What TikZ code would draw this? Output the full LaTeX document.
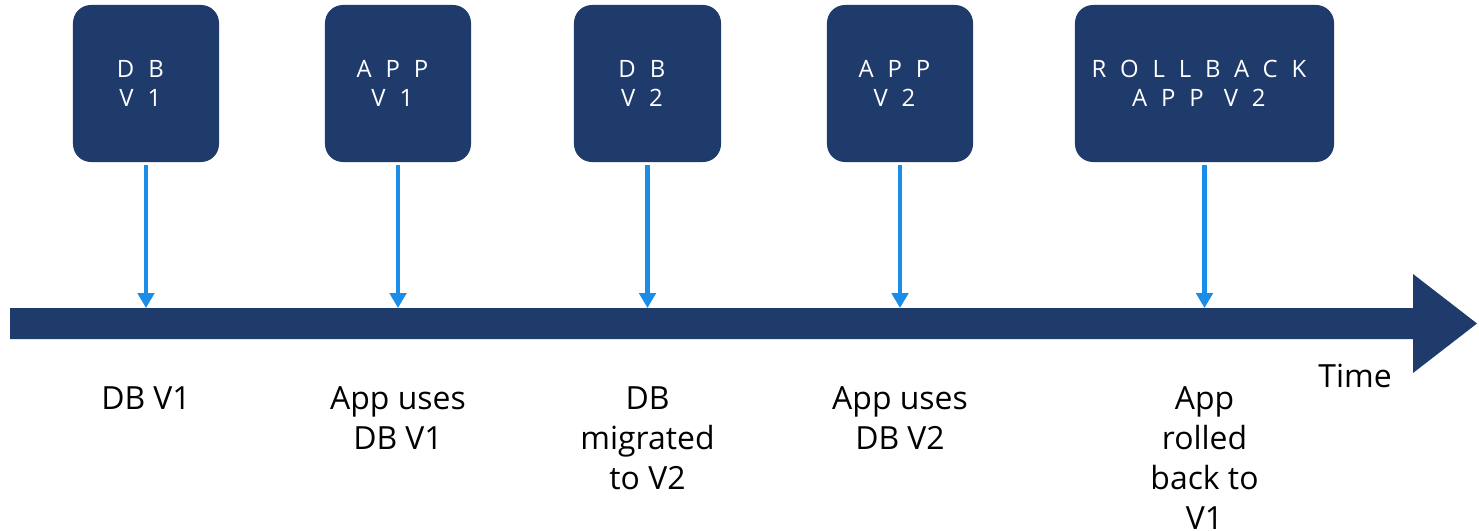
\documentclass[tikz,border=0pt]{standalone}
\usepackage{fontspec}
\setmainfont{Open Sans}
\newfontfamily\boxfont[LetterSpace=58]{Open Sans}
\usetikzlibrary{arrows.meta}
\definecolor{navy}{RGB}{31,59,108}
\definecolor{tickblue}{RGB}{26,141,232}
\newcommand{\trail}{\kern8pt}

\begin{document}
\begin{tikzpicture}[x=0.025cm, y=-0.025cm,
    stagebox/.style={rectangle, rounded corners=0.45cm, fill=navy, text=white,
        minimum height=3.925cm, align=center, inner sep=0pt,
        font=\boxfont\fontsize{17}{20.5}\selectfont},
    tick/.style={tickblue, line width=3.4pt, -{Triangle[width=11.5pt, length=10.5pt]}},
    caption/.style={anchor=north, align=center, inner sep=0pt,
        font=\fontsize{22.7}{28.5}\selectfont}]
        \useasboundingbox (0,0) rectangle (1479,531);

        \node at (146,83.5) [stagebox, minimum width=3.65cm] (db1) {DB\trail\\V1\trail};
        \node at (398,83.5) [stagebox, minimum width=3.65cm] (app1) {APP\trail\\V1\trail};
        \node at (647.5,83.5) [stagebox, minimum width=3.675cm] (db2) {DB\trail\\V2\trail};
        \node at (900,83.5) [stagebox, minimum width=3.65cm] (app2) {APP\trail\\V2\trail};
        \node at (1204.5,83.5) [stagebox, minimum width=6.475cm] (rollback) {ROLLBACK\trail\\APP V2\trail};

        % time line
        \coordinate (bartop) at (0,308);
        \fill[navy] (10,308) -- (1413,308) -- (1413,274) -- (1477,323.5)
            -- (1413,373) -- (1413,339) -- (10,339) -- cycle;
        \node at (1355,387) [anchor=base, inner sep=0pt, font=\fontsize{22.7}{28.5}\selectfont] (time) {Time};

        \draw[tick] ([yshift=-2pt]db1.south) -- (db1.south |- bartop);
        \draw[tick] ([yshift=-2pt]app1.south) -- (app1.south |- bartop);
        \draw[tick] ([yshift=-2pt]db2.south) -- (db2.south |- bartop);
        \draw[tick] ([yshift=-2pt]app2.south) -- (app2.south |- bartop);
        \draw[tick] ([yshift=-2pt]rollback.south) -- (rollback.south |- bartop);

        \node at (146,386) [caption] (l1) {DB V1};
        \node at (398,386) [caption] (l2) {App uses\\DB V1};
        \node at (647.5,386) [caption] (l3) {DB\\migrated\\to V2};
        \node at (900,386) [caption] (l4) {App uses\\DB V2};
        \node at (1204.5,386) [caption] (l5) {App\\rolled\\back to\\V1};
    \end{tikzpicture}
\end{document}
